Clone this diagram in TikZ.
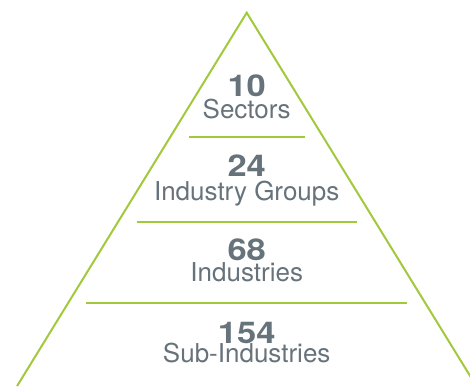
\documentclass[tikz,border=0pt]{standalone}
\usepackage{fontspec}
\setmainfont{TeX Gyre Heros}
\newfontfamily\numfont[FakeStretch=1.15]{TeX Gyre Heros}
\definecolor{pyrgreen}{HTML}{A2C83C}
\definecolor{pyrgray}{HTML}{67737B}
\tikzset{
    edge/.style={draw=pyrgreen, line width=2pt},
    num/.style={anchor=base, inner sep=0pt, text depth=0pt, text=pyrgray, font=\numfont\bfseries\fontsize{30}{32}\selectfont},
    lbl/.style={anchor=base, inner sep=0pt, text height=18pt, text=pyrgray, font=\fontsize{26}{30}\selectfont}
}
\begin{document}
\begin{tikzpicture}[x=1pt, y=1pt]
    \useasboundingbox (0,0) rectangle (470,386);
    \begin{scope}
        \clip (0,0) rectangle (470,386);
        \coordinate (top) at (246.7,373.3);
        \coordinate (botL) at (17.1,0);
        \coordinate (botR) at (476.3,0);
        \draw[edge, line join=miter] (botL) -- (top) -- (botR);
    \end{scope}
    % levels
    \draw[edge] (188.7,249) -- (304.7,249);
    \draw[edge] (136.7,164.5) -- (356.7,164.5);
    \draw[edge] (86.2,83) -- (407.2,83);
    % texts
    \node[num] (n1) at (246.7,289.3) {10};
    \node[lbl] (l1) at (246.7,267.7) {Sectors};
    \node[num] (n2) at (246.7,209.3) {24};
    \node[lbl] (l2) at (246.7,185.3) {Industry Groups};
    \node[num] (n3) at (246.7,126) {68};
    \node[lbl] (l3) at (246.7,104.3) {Industries};
    \node[num] (n4) at (246.7,42.7) {154};
    \node[lbl] (l4) at (246.7,23.5) {Sub-Industries};
\end{tikzpicture}
\end{document}
